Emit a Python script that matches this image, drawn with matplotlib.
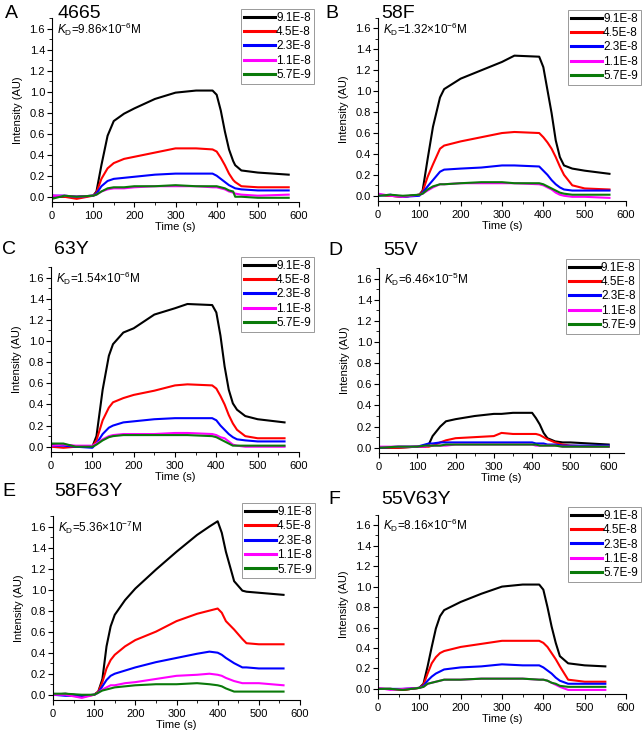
import matplotlib
matplotlib.use("Agg")
import matplotlib.pyplot as plt
from matplotlib.ticker import MultipleLocator

plt.rcParams['font.family'] = ['Liberation Sans', 'DejaVu Sans']
plt.rcParams['mathtext.fontset'] = 'custom'
plt.rcParams['mathtext.rm'] = 'Liberation Sans'
plt.rcParams['mathtext.it'] = 'Liberation Sans:italic'
plt.rcParams['mathtext.default'] = 'regular'

W, H = 643, 733

concentrations = ["9.1E-8", "4.5E-8", "2.3E-8", "1.1E-8", "5.7E-9"]
colors = ["#000000", "#ff0000", "#0000ff", "#ff00ff", "#0a7a0a"]

letters = ["A", "B", "C", "D", "E", "F"]
names = ["4665", "58F", "63Y", "55V", "58F63Y", "55V63Y"]
kd_mant = ["9.86", "1.32", "1.54", "6.46", "5.36", "8.16"]
kd_exp = ["-6", "-6", "-6", "-5", "-7", "-6"]

# Panel A
tA = [0, 30, 60, 100, 108, 120, 135, 150, 175, 200, 250, 300, 350, 390, 400, 410, 420, 430, 440, 445, 460, 500, 575]
A_91 = [0.0, 0.0, 0.0, 0.01, 0.05, 0.30, 0.58, 0.72, 0.79, 0.84, 0.93, 0.99, 1.01, 1.01, 0.97, 0.82, 0.62, 0.45, 0.34, 0.30, 0.25, 0.23, 0.21]
A_45 = [0.01, 0.0, -0.02, 0.01, 0.04, 0.17, 0.27, 0.32, 0.36, 0.38, 0.42, 0.46, 0.46, 0.45, 0.43, 0.37, 0.30, 0.22, 0.16, 0.14, 0.10, 0.09, 0.09]
A_23 = [0.01, 0.01, 0.0, 0.01, 0.03, 0.10, 0.15, 0.17, 0.18, 0.19, 0.21, 0.22, 0.22, 0.22, 0.20, 0.17, 0.14, 0.11, 0.09, 0.08, 0.07, 0.06, 0.06]
A_11 = [0.01, 0.01, 0.0, 0.01, 0.02, 0.05, 0.07, 0.08, 0.08, 0.09, 0.10, 0.10, 0.10, 0.09, 0.09, 0.08, 0.07, 0.05, 0.04, 0.03, 0.02, 0.01, 0.02]
A_57 = [-0.02, 0.01, 0.0, 0.01, 0.02, 0.05, 0.08, 0.09, 0.09, 0.10, 0.10, 0.11, 0.10, 0.10, 0.10, 0.09, 0.08, 0.06, 0.05, 0.00, 0.0, -0.01, -0.01]

# Panel B
tB = [0, 30, 60, 100, 108, 120, 133, 150, 160, 200, 250, 300, 330, 390, 400, 410, 420, 430, 440, 450, 470, 500, 560]
B_91 = [0.01, 0.0, -0.01, 0.01, 0.05, 0.35, 0.66, 0.94, 1.02, 1.12, 1.20, 1.28, 1.34, 1.33, 1.23, 1.01, 0.79, 0.53, 0.37, 0.29, 0.26, 0.24, 0.21]
B_45 = [0.01, 0.0, -0.01, 0.01, 0.04, 0.18, 0.30, 0.45, 0.48, 0.52, 0.56, 0.60, 0.61, 0.60, 0.56, 0.51, 0.45, 0.37, 0.28, 0.20, 0.10, 0.07, 0.06]
B_23 = [0.0, 0.01, -0.01, 0.0, 0.03, 0.09, 0.15, 0.23, 0.25, 0.26, 0.27, 0.29, 0.29, 0.28, 0.24, 0.20, 0.15, 0.11, 0.08, 0.06, 0.05, 0.05, 0.05]
B_11 = [0.02, 0.0, -0.01, 0.01, 0.02, 0.05, 0.08, 0.11, 0.11, 0.12, 0.12, 0.12, 0.12, 0.11, 0.10, 0.08, 0.06, 0.03, 0.01, 0.0, -0.01, -0.01, -0.02]
B_57 = [0.0, 0.01, 0.0, 0.01, 0.02, 0.06, 0.09, 0.11, 0.11, 0.12, 0.13, 0.13, 0.12, 0.12, 0.11, 0.09, 0.07, 0.05, 0.03, 0.02, 0.01, 0.01, 0.01]

# Panel C
tC = [0, 30, 60, 100, 110, 125, 140, 150, 175, 200, 250, 300, 330, 390, 400, 410, 420, 430, 440, 450, 470, 500, 565]
C_91 = [0.02, 0.02, 0.0, 0.0, 0.10, 0.54, 0.86, 0.97, 1.08, 1.12, 1.25, 1.31, 1.35, 1.34, 1.27, 1.05, 0.76, 0.54, 0.41, 0.35, 0.29, 0.26, 0.23]
C_45 = [0.0, -0.01, 0.0, 0.0, 0.06, 0.25, 0.37, 0.42, 0.46, 0.49, 0.53, 0.58, 0.59, 0.58, 0.55, 0.48, 0.40, 0.30, 0.22, 0.16, 0.10, 0.08, 0.08]
C_23 = [0.01, 0.01, 0.0, -0.01, 0.03, 0.12, 0.18, 0.20, 0.23, 0.24, 0.26, 0.27, 0.27, 0.27, 0.25, 0.20, 0.16, 0.12, 0.09, 0.07, 0.06, 0.05, 0.05]
C_11 = [0.01, 0.02, 0.01, 0.01, 0.03, 0.07, 0.10, 0.11, 0.12, 0.12, 0.12, 0.13, 0.13, 0.12, 0.11, 0.09, 0.08, 0.05, 0.02, 0.01, 0.0, 0.0, 0.0]
C_57 = [0.03, 0.03, 0.0, 0.0, 0.02, 0.06, 0.09, 0.10, 0.11, 0.11, 0.11, 0.11, 0.11, 0.10, 0.09, 0.07, 0.05, 0.03, 0.01, 0.01, 0.01, 0.01, 0.01]

# Panel D
tD = [0, 50, 100, 120, 130, 140, 160, 175, 200, 250, 300, 320, 350, 400, 410, 420, 430, 440, 460, 480, 500, 550, 600]
D_91 = [0.0, 0.0, 0.01, 0.01, 0.03, 0.11, 0.20, 0.25, 0.27, 0.30, 0.32, 0.32, 0.33, 0.33, 0.28, 0.22, 0.14, 0.09, 0.06, 0.05, 0.05, 0.04, 0.03]
D_45 = [0.0, 0.0, 0.01, 0.01, 0.01, 0.02, 0.05, 0.07, 0.09, 0.10, 0.11, 0.14, 0.13, 0.13, 0.13, 0.12, 0.10, 0.08, 0.05, 0.03, 0.02, 0.01, 0.01]
D_23 = [0.0, 0.01, 0.01, 0.03, 0.04, 0.04, 0.05, 0.05, 0.05, 0.05, 0.05, 0.05, 0.05, 0.05, 0.04, 0.04, 0.04, 0.03, 0.03, 0.02, 0.02, 0.02, 0.02]
D_11 = [0.01, 0.01, 0.01, 0.01, 0.02, 0.02, 0.02, 0.02, 0.03, 0.03, 0.03, 0.03, 0.03, 0.03, 0.02, 0.02, 0.02, 0.02, 0.02, 0.01, 0.01, 0.01, 0.01]
D_57 = [0.0, 0.01, 0.01, 0.02, 0.02, 0.02, 0.02, 0.03, 0.03, 0.03, 0.03, 0.03, 0.03, 0.03, 0.03, 0.02, 0.02, 0.02, 0.02, 0.01, 0.01, 0.01, 0.01]

# Panel E
tE = [0, 30, 70, 100, 110, 120, 130, 140, 150, 175, 200, 250, 300, 350, 380, 400, 410, 420, 440, 460, 470, 500, 560]
E_91 = [0.0, 0.01, -0.01, 0.0, 0.03, 0.15, 0.46, 0.65, 0.76, 0.90, 1.01, 1.19, 1.36, 1.52, 1.60, 1.65, 1.54, 1.36, 1.08, 0.99, 0.98, 0.97, 0.95]
E_45 = [0.0, 0.0, -0.02, 0.0, 0.03, 0.12, 0.25, 0.33, 0.38, 0.46, 0.52, 0.60, 0.70, 0.77, 0.80, 0.82, 0.78, 0.70, 0.62, 0.53, 0.49, 0.48, 0.48]
E_23 = [0.0, -0.01, -0.01, 0.0, 0.02, 0.08, 0.14, 0.18, 0.20, 0.23, 0.26, 0.31, 0.35, 0.39, 0.41, 0.40, 0.38, 0.35, 0.30, 0.26, 0.26, 0.25, 0.25]
E_11 = [0.0, 0.0, -0.03, 0.0, 0.02, 0.05, 0.07, 0.09, 0.09, 0.11, 0.12, 0.15, 0.18, 0.19, 0.20, 0.19, 0.18, 0.16, 0.13, 0.11, 0.11, 0.11, 0.09]
E_57 = [0.01, 0.01, 0.0, 0.0, 0.02, 0.04, 0.05, 0.06, 0.07, 0.08, 0.09, 0.10, 0.10, 0.11, 0.10, 0.09, 0.08, 0.06, 0.03, 0.03, 0.03, 0.03, 0.03]

# Panel F
tF = [0, 30, 60, 100, 110, 120, 130, 140, 150, 160, 200, 250, 300, 350, 390, 400, 410, 420, 430, 440, 460, 500, 550]
F_91 = [0.0, 0.0, -0.01, 0.01, 0.05, 0.22, 0.41, 0.59, 0.71, 0.77, 0.85, 0.93, 1.00, 1.02, 1.02, 0.97, 0.80, 0.61, 0.45, 0.32, 0.25, 0.23, 0.22]
F_45 = [0.0, 0.0, -0.01, 0.01, 0.04, 0.15, 0.25, 0.31, 0.35, 0.37, 0.41, 0.44, 0.47, 0.47, 0.47, 0.45, 0.41, 0.35, 0.29, 0.22, 0.09, 0.07, 0.07]
F_23 = [0.0, 0.0, 0.0, 0.01, 0.03, 0.08, 0.12, 0.15, 0.17, 0.19, 0.21, 0.22, 0.24, 0.23, 0.23, 0.21, 0.18, 0.15, 0.11, 0.08, 0.05, 0.05, 0.05]
F_11 = [0.01, -0.01, 0.0, 0.01, 0.02, 0.05, 0.06, 0.07, 0.08, 0.09, 0.09, 0.10, 0.10, 0.10, 0.09, 0.09, 0.08, 0.06, 0.04, 0.02, -0.01, -0.01, -0.01]
F_57 = [0.0, 0.0, -0.01, 0.01, 0.02, 0.05, 0.06, 0.07, 0.08, 0.09, 0.09, 0.10, 0.10, 0.10, 0.09, 0.09, 0.08, 0.06, 0.05, 0.03, 0.02, 0.02, 0.02]

panels = [
    (tA, [A_91, A_45, A_23, A_11, A_57]),
    (tB, [B_91, B_45, B_23, B_11, B_57]),
    (tC, [C_91, C_45, C_23, C_11, C_57]),
    (tD, [D_91, D_45, D_23, D_11, D_57]),
    (tE, [E_91, E_45, E_23, E_11, E_57]),
    (tF, [F_91, F_45, F_23, F_11, F_57]),
]

# layout in pixels: left, right, top, bottom
rects = [
    (52, 299, 18, 202),
    (378, 626, 18, 201),
    (51, 299, 267, 452),
    (379, 624, 268, 453),
    (53, 300, 516, 700),
    (378, 626, 515, 694),
]
xmaxes = [600, 600, 600, 640, 600, 600]
legend_y = [1.05, 1.045, 1.055, 1.05, 1.07, 1.045]
letter_pos = [(5, 13), (325, 13), (2, 249), (328, 250), (2, 492), (328, 499)]
title_pos = [(57, 13), (381, 13), (54, 249), (383, 250), (54, 492), (381, 499)]

fig = plt.figure(figsize=(W / 100, H / 100), dpi=100)

for i, (t, series) in enumerate(panels):
    l, r, tp, bt = rects[i]
    ax = fig.add_axes([l / W, 1 - bt / H, (r - l) / W, (bt - tp) / H])
    for vals, c, lab in zip(series, colors, concentrations):
        ax.plot(t, vals, color=c, lw=1.5, label=lab)
    ax.set_xlim(0, xmaxes[i])
    ax.set_ylim(-0.05, 1.7)
    ax.spines['top'].set_visible(False)
    ax.spines['right'].set_visible(False)
    ax.spines['left'].set_linewidth(0.8)
    ax.spines['bottom'].set_linewidth(0.8)
    ax.xaxis.set_major_locator(MultipleLocator(100))
    ax.xaxis.set_minor_locator(MultipleLocator(50))
    ax.yaxis.set_major_locator(MultipleLocator(0.2))
    ax.yaxis.set_minor_locator(MultipleLocator(0.1))
    ax.yaxis.set_major_formatter(matplotlib.ticker.FormatStrFormatter('%.1f'))
    ax.tick_params(which='major', direction='out', length=3.5, width=0.8, labelsize=8, pad=1.5)
    ax.tick_params(axis='x', which='major', pad=3)
    ax.tick_params(which='minor', direction='out', length=2, width=0.6)
    ax.set_xlabel("Time (s)", fontsize=8, labelpad=1)
    ax.set_ylabel("Intensity (AU)", fontsize=8, labelpad=5)
    kd = r'$\mathit{K}_{\mathrm{D}}$=' + kd_mant[i] + r'$\times$10$^{' + kd_exp[i] + r'}$M'
    ax.text(0.02, 0.94, kd, transform=ax.transAxes, fontsize=8.5, va='center', ha='left')
    leg = ax.legend(loc='upper right', bbox_to_anchor=(1.06, legend_y[i]), fontsize=8.5,
                    frameon=True, fancybox=False, edgecolor='#808080',
                    borderpad=0.25, labelspacing=0.2, handlelength=2.6,
                    handletextpad=0.1, borderaxespad=0)
    leg.get_frame().set_linewidth(0.7)
    for ln in leg.get_lines():
        ln.set_linewidth(2.2)
    lx, ly = letter_pos[i]
    fig.text(lx / W, 1 - ly / H, letters[i], fontsize=14, va='center', ha='left')
    tx, ty = title_pos[i]
    fig.text(tx / W, 1 - ty / H, names[i], fontsize=14, va='center', ha='left')

fig.savefig("out.png", dpi=100)
